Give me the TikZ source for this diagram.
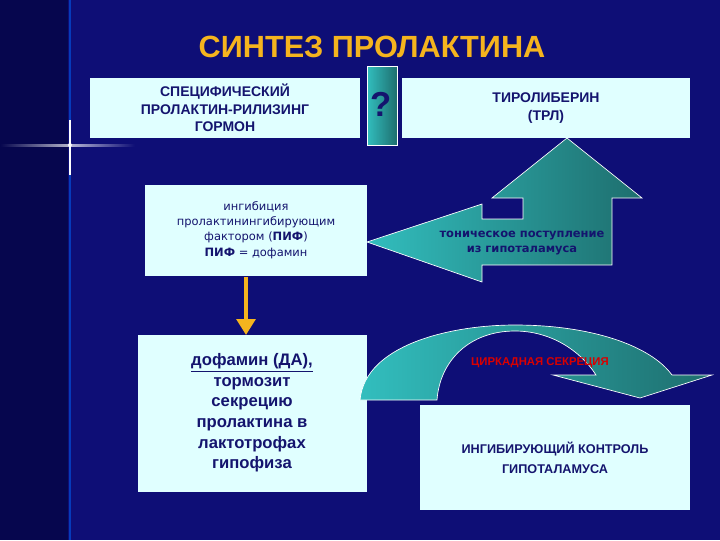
\documentclass[tikz,border=0pt]{standalone}
\usepackage{fontspec}
\setmainfont{Liberation Sans}
\newfontfamily\dv{DejaVu Sans}
\usetikzlibrary{shadings,arrows.meta}
\definecolor{bg}{RGB}{14,14,118}
\definecolor{bgl}{RGB}{6,6,78}
\definecolor{lbox}{RGB}{224,255,255}
\definecolor{navy}{RGB}{20,20,110}
\definecolor{tealA}{RGB}{50,190,190}
\definecolor{tealB}{RGB}{30,110,110}
\definecolor{ttl}{RGB}{245,180,30}
\begin{document}
\begin{tikzpicture}[x=0.75pt,y=-0.75pt,
  lb/.style={fill=lbox,draw=none,align=center,text=navy,font=\bfseries},
  arr/.style={left color=tealA,right color=tealB,draw=white,line width=0.5pt}]
\useasboundingbox (0,0) rectangle (720,540);
\fill[bg] (0,0) rectangle (720,540);
\fill[bgl] (0,0) rectangle (68,540);
% glow lines
\fill[blue!60!cyan,opacity=0.5] (69,0) rectangle (71,540);
\shade[left color=bgl,right color=white,opacity=0.7] (0,144) rectangle (70,146);
\shade[left color=white,right color=bg,opacity=0.7] (70,144) rectangle (135,146);
\fill[white] (69.3,120) rectangle (70.7,175);
\fill[white,opacity=0.8] (70,145) circle (2);
% title
\node[text=ttl,font=\bfseries\fontsize{23}{26}\selectfont] (title) at (372,47) {СИНТЕЗ ПРОЛАКТИНА};
% boxes
\path[fill=lbox] (90,78) rectangle (360,138);
\node[lb,font=\bfseries\fontsize{10.5}{13}\selectfont] (b1) at (225,108) {СПЕЦИФИЧЕСКИЙ\\ПРОЛАКТИН-РИЛИЗИНГ\\ГОРМОН};
\path[fill=lbox] (402,78) rectangle (690,138);
\node[lb,font=\bfseries\fontsize{10.5}{13}\selectfont] (b2) at (546,108) {ТИРОЛИБЕРИН\\(ТРЛ)};
\path[left color=tealA,right color=tealB,draw=white,line width=0.5pt] (367,66) rectangle (397,145);
\node[text=navy,font=\bfseries\fontsize{26}{28}\selectfont] (q) at (381,104) {?};
\path[fill=lbox] (145,185) rectangle (367,276);
\node[lb,font=\dv\fontsize{8.6}{11.5}\selectfont] (b3) at (256,230) {ингибиция\\пролактинингибирующим\\фактором (\textbf{ПИФ})\\\textbf{ПИФ} = дофамин};
\path[fill=lbox] (138,335) rectangle (367,492);
\node[lb,font=\bfseries\fontsize{12.5}{15.5}\selectfont] (b4) at (252,413) {\underline{дофамин (ДА),}\\тормозит\\секрецию\\пролактина в\\лактотрофах\\гипофиза};
\path[fill=lbox] (420,405) rectangle (690,510);
\node[lb,font=\bfseries\fontsize{9.5}{15}\selectfont] (b5) at (555,458) {ИНГИБИРУЮЩИЙ КОНТРОЛЬ\\ГИПОТАЛАМУСА};
% orange arrow
\coordinate (o1) at (246,277);
\coordinate (o2) at (246,335);
\draw[ttl,line width=3pt,-{Triangle[length=12pt,width=14pt]}] (o1) -- (o2);
% up-left arrow
\path[arr] (367,242) -- (482,204) -- (482,219) -- (523,219) -- (523,198) -- (492,198) -- (567,138) -- (642,198) -- (612,198) -- (612,265) -- (482,265) -- (482,282) -- cycle;
\node[text=navy,font=\dv\bfseries\fontsize{8.6}{11}\selectfont,align=center] (t1) at (522,243) {тоническое поступление\\из гипоталамуса};
% curved arrow
\path[arr] (360,400) .. controls (365,345) and (450,325) .. (515,325) .. controls (590,325) and (650,345) .. (672,375) -- (712,375) -- (640,398) -- (553,375) -- (596,375) .. controls (580,350) and (550,331) .. (515,331) .. controls (470,331) and (440,360) .. (437,400) -- cycle;
\node[text=red!85!black,font=\bfseries\fontsize{8.5}{10}\selectfont] (t2) at (540,363) {ЦИРКАДНАЯ СЕКРЕЦИЯ};
\end{tikzpicture}
\end{document}
